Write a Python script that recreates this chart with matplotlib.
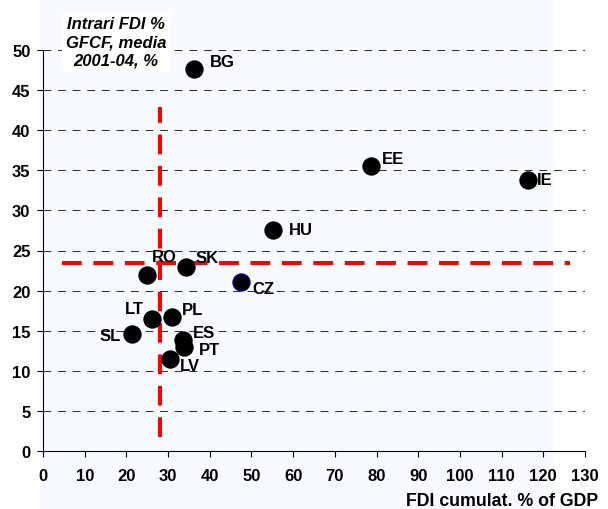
import matplotlib.pyplot as plt
import matplotlib.patches as mpatches

plt.rcParams['font.family'] = ['Liberation Sans', 'DejaVu Sans']
plt.rcParams['font.weight'] = 'bold'

countries = ['BG', 'EE', 'IE', 'HU', 'RO', 'SK', 'CZ', 'LT', 'PL', 'SL', 'ES', 'PT', 'LV']
fdi_gdp = [36.2, 78.7, 116.3, 55.2, 24.9, 34.3, 47.5, 26.1, 30.9, 21.3, 33.6, 33.8, 30.5]
fdi_gfcf = [47.6, 35.5, 33.8, 27.6, 21.9, 22.9, 21.1, 16.5, 16.7, 14.6, 13.8, 13.0, 11.5]

# label offsets in points (dx, dy), text left edge / vertical centre
label_off = {'BG': (11.5, 5.8), 'EE': (8, 5.8), 'IE': (6.5, 0), 'HU': (11.5, 0), 'RO': (3.6, 13.7),
             'SK': (7.2, 7.2), 'CZ': (8, -5), 'LT': (-19.4, 7.2), 'PL': (7.2, 5.8), 'SL': (-23, -1.4),
             'ES': (7.2, 5.8), 'PT': (10.8, -2), 'LV': (7.2, -5)}

avg_x = 28.1
avg_y = 23.4

fig = plt.figure(figsize=(6.08, 5.10), dpi=100)
fig.patches.append(mpatches.Rectangle((40/608, 0), 513/608, 1, transform=fig.transFigure,
                                      facecolor='#f7fbff', edgecolor='none', zorder=-5))
ax = fig.add_axes([43/608, 1 - 452/510, 542/608, 401/510])
ax.set_zorder(2)
ax.patch.set_visible(False)

for yv in range(5, 55, 5):
    ax.plot([0, 130], [yv, yv], color='#333333', lw=0.75, dashes=(7.5, 6.5), zorder=1)

ax.plot([4.6, 126.4], [avg_y, avg_y], color='#ff0000', lw=2.9, dashes=(4.9, 2.9), zorder=2)
ax.plot([avg_x, avg_x], [1.7, 42.9], color='#ff0000', lw=2.9, dashes=(4.9, 2.9), zorder=2)

for c, x, y in zip(countries, fdi_gdp, fdi_gfcf):
    ec = '#000080' if c == 'CZ' else 'black'
    ax.plot(x, y, 'o', ms=12, mfc='black', mec=ec, mew=1.2, zorder=3)
    dx, dy = label_off[c]
    ax.annotate(c, (x, y), xytext=(dx, dy), textcoords='offset points', va='center',
                fontsize=12, fontweight='bold', zorder=4)

ax.set_xlim(0, 130)
ax.set_ylim(0, 50)
ax.set_xticks(range(0, 131, 10))
ax.set_yticks(range(0, 51, 5))
ax.tick_params(labelsize=12, length=4, width=0.8, direction='out')
ax.tick_params(axis='x', pad=8)
ax.tick_params(axis='y', pad=5)
for s in ['top', 'right']:
    ax.spines[s].set_visible(False)
ax.spines['left'].set_linewidth(0.8)
ax.spines['bottom'].set_linewidth(0.8)

fig.text(116/608, 1 - 43/510, 'Intrari FDI %\nGFCF, media\n2001-04, %', ha='center', va='center',
         fontsize=12, fontweight='bold', style='italic', linespacing=1.26,
         bbox=dict(facecolor='white', edgecolor='none', pad=3), zorder=5)
fig.text(598/608, 1 - 502/510, 'FDI cumulat. % of GDP', ha='right', va='center',
         fontsize=12.8, fontweight='bold')

fig.savefig('out.png', dpi=100)
